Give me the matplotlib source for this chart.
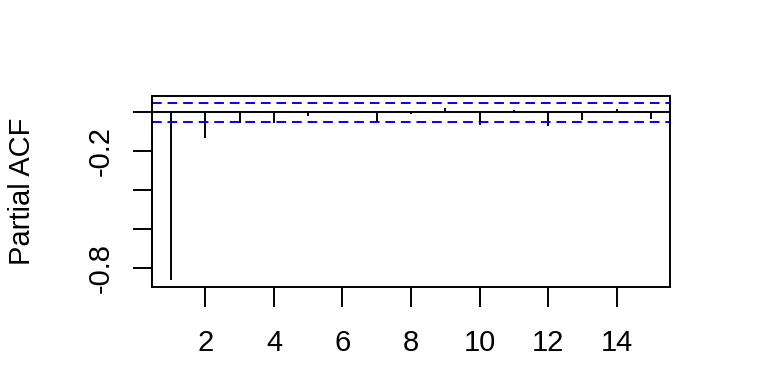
import matplotlib
matplotlib.use("Agg")
import matplotlib.pyplot as plt

plt.rcParams['font.family'] = ['Liberation Sans', 'DejaVu Sans']

lags = list(range(1, 16))
pacf_vals = [-0.863, -0.134, -0.054, -0.054, -0.02, -0.003, -0.048, -0.01,
             0.025, -0.065, 0.014, -0.07, -0.041, 0.02, -0.032]
ci = 0.048
xticks = [2, 4, 6, 8, 10, 12, 14]
yticks = [-0.8, -0.6, -0.4, -0.2, 0.0]
ytick_labels = ["-0.8", "", "", "-0.2", ""]

fig = plt.figure(figsize=(7.68, 3.84), dpi=100)
ax = fig.add_axes([152/768, (384-287)/384, (670-152)/768, (287-96)/384])

ax.vlines(lags, 0, pacf_vals, colors="black", lw=1.4)
ax.axhline(0, color="black", lw=1.4)
ax.axhline(ci, color="#0000ff", lw=1.4, linestyle=(0, (5, 3)))
ax.axhline(-ci, color="#0000ff", lw=1.4, linestyle=(0, (5, 3)))

xr = (1, 15)
pad = 0.04 * (xr[1] - xr[0])
ax.set_xlim(xr[0] - pad, xr[1] + pad)
ymin, ymax = min(pacf_vals), ci
ypad = 0.04 * (ymax - ymin)
ax.set_ylim(ymin - ypad, ymax + ypad)

ax.set_xticks(xticks)
ax.set_xticklabels([str(t) for t in xticks], fontsize=21)
ax.set_yticks(yticks)
ax.set_yticklabels(ytick_labels, fontsize=21, rotation=90, va="center")
ax.tick_params(axis="x", length=14.5, width=1.4, pad=16)
ax.tick_params(axis="y", length=13.5, width=1.4, pad=13)
for s in ax.spines.values():
    s.set_linewidth(1.4)

fig.text(22/768, 0.5 * ((384-287)/384 + (384-96)/384), "Partial ACF",
         fontsize=21, rotation=90, ha="center", va="center")

fig.savefig("out.png", dpi=100)
